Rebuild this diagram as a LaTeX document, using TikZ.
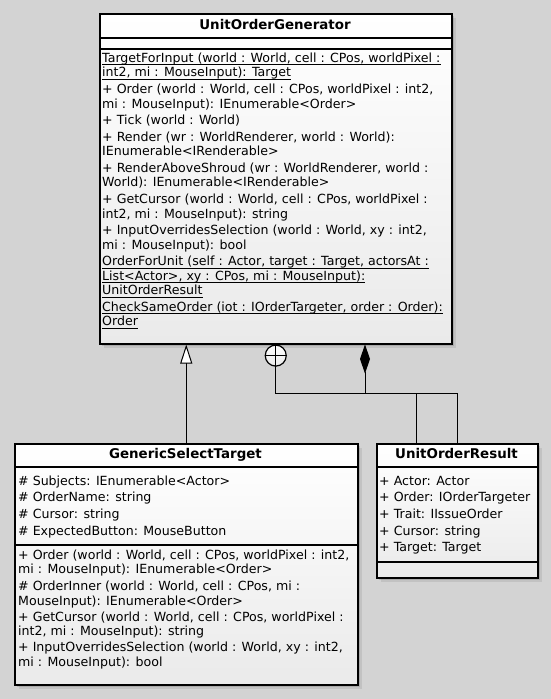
\documentclass[tikz,border=0pt]{standalone}
\usepackage{fontspec}
\setmainfont{DejaVu Sans}
\usetikzlibrary{shadows,arrows.meta,calc}
\definecolor{bg}{HTML}{D3D3D3}
\definecolor{boxend}{HTML}{EAEAEA}
\newcommand\mkline[4]{\node[txt] (#1) at (#2,#3) {#4};}
\newcommand\mkuline[4]{\node[txt] (#1) at (#2,#3) {#4};
  \draw[line width=0.9pt] ($(#1.base west)+(0,2.4)$) -- ($(#1.base east)+(0,2.4)$);}
\begin{document}
\begin{tikzpicture}[x=1pt,y=-1pt,
  classbox/.style={draw=black, line width=1.5pt, top color=white, bottom color=boxend,
    drop shadow={shadow xshift=4pt, shadow yshift=-4pt, opacity=0.08, fill=black},
    drop shadow={shadow xshift=2.5pt, shadow yshift=-2.5pt, opacity=0.12, fill=black},
    anchor=north west, inner sep=0pt},
  sep/.style={line width=1.2pt},
  txt/.style={anchor=base west, inner sep=0pt, font=\fontsize{12.6}{14}\selectfont},
  ttl/.style={anchor=base, inner sep=0pt, font=\fontsize{13.4}{15}\selectfont\bfseries},
  conn/.style={line width=1pt, draw=black},
]
\useasboundingbox[fill=bg] (0,0) rectangle (551,699);

% ---------- UnitOrderGenerator ----------
\node[classbox, minimum width=352pt, minimum height=330pt] (gen) at (99,13) {};
\node[ttl] (genT) at (275,29) {UnitOrderGenerator};
\draw[sep] (99,38) -- (451,38);
\draw[sep] (99,49) -- (451,49);
\mkuline{g1}{102}{62.5}{TargetForInput (world : World, cell : CPos, worldPixel :}
\mkuline{g2}{102}{76.9}{int2, mi : MouseInput): Target}
\mkline{g3}{102}{93.6}{+ Order (world : World, cell : CPos, worldPixel : int2,}
\mkline{g4}{102}{108}{mi : MouseInput): IEnumerable<Order>}
\mkline{g5}{102}{124.7}{+ Tick (world : World)}
\mkline{g6}{102}{141.4}{+ Render (wr : WorldRenderer, world : World):}
\mkline{g7}{102}{155.8}{IEnumerable<IRenderable>}
\mkline{g8}{102}{172.5}{+ RenderAboveShroud (wr : WorldRenderer, world :}
\mkline{g9}{102}{186.9}{World): IEnumerable<IRenderable>}
\mkline{g10}{102}{203.6}{+ GetCursor (world : World, cell : CPos, worldPixel :}
\mkline{g11}{102}{218}{int2, mi : MouseInput): string}
\mkline{g12}{102}{234.7}{+ InputOverridesSelection (world : World, xy : int2,}
\mkline{g13}{102}{249.1}{mi : MouseInput): bool}
\mkuline{g14}{102}{265.8}{OrderForUnit (self : Actor, target : Target, actorsAt :}
\mkuline{g15}{102}{280.2}{List<Actor>, xy : CPos, mi : MouseInput):}
\mkuline{g16}{102}{294.6}{UnitOrderResult}
\mkuline{g17}{102}{311.3}{CheckSameOrder (iot : IOrderTargeter, order : Order):}
\mkuline{g18}{102}{325.7}{Order}

% ---------- GenericSelectTarget ----------
\node[classbox, minimum width=343pt, minimum height=241pt] (gst) at (14,443) {};
\node[ttl] (gstT) at (185.5,458) {GenericSelectTarget};
\draw[sep] (14,467) -- (357,467);
\draw[sep] (14,545) -- (357,545);
\mkline{s1}{18}{485.2}{\# Subjects: IEnumerable<Actor>}
\mkline{s2}{18}{501.8}{\# OrderName: string}
\mkline{s3}{18}{518.5}{\# Cursor: string}
\mkline{s4}{18}{535.2}{\# ExpectedButton: MouseButton}
\mkline{s5}{18}{559.5}{+ Order (world : World, cell : CPos, worldPixel : int2,}
\mkline{s6}{18}{573.8}{mi : MouseInput): IEnumerable<Order>}
\mkline{s7}{18}{590.5}{\# OrderInner (world : World, cell : CPos, mi :}
\mkline{s8}{18}{605.2}{MouseInput): IEnumerable<Order>}
\mkline{s9}{18}{621.2}{+ GetCursor (world : World, cell : CPos, worldPixel :}
\mkline{s10}{18}{635.5}{int2, mi : MouseInput): string}
\mkline{s11}{18}{651.8}{+ InputOverridesSelection (world : World, xy : int2,}
\mkline{s12}{18}{666.2}{mi : MouseInput): bool}

% ---------- UnitOrderResult ----------
\node[classbox, minimum width=161pt, minimum height=134pt] (uor) at (376,443) {};
\node[ttl] (uorT) at (456.5,458) {UnitOrderResult};
\draw[sep] (376,467) -- (537,467);
\draw[sep] (376,562) -- (537,562);
\mkline{r1}{379}{485.2}{+ Actor: Actor}
\mkline{r2}{379}{501.8}{+ Order: IOrderTargeter}
\mkline{r3}{379}{518.5}{+ Trait: IIssueOrder}
\mkline{r4}{379}{535.2}{+ Cursor: string}
\mkline{r5}{379}{551.8}{+ Target: Target}

% ---------- connectors ----------
\coordinate (bus) at (0,393.5);
\coordinate (compTop) at ($(gen.south east)+(-87.5,0)$);
\coordinate (uorL) at ($(uor.north west)+(40.5,0)$);

% generalization
\draw[conn, -{Triangle[length=19pt, width=12pt, fill=white]}] (gst.north) -- (gst.north |- gen.south);

% nesting
\node[circle, draw=black, line width=1.2pt, top color=white, bottom color=boxend,
  minimum size=21pt, inner sep=0pt, anchor=north] (nest) at (gen.south) {};
\draw[line width=1pt] (nest.north) -- (nest.south) (nest.west) -- (nest.east);
\draw[conn] (uor.north) |- (nest.south |- bus) -- (nest.south);

% composition
\draw[conn, -{Diamond[length=29pt, width=10pt, fill=black]}] (uorL) |- (compTop |- bus) -- (compTop);
\end{tikzpicture}
\end{document}
